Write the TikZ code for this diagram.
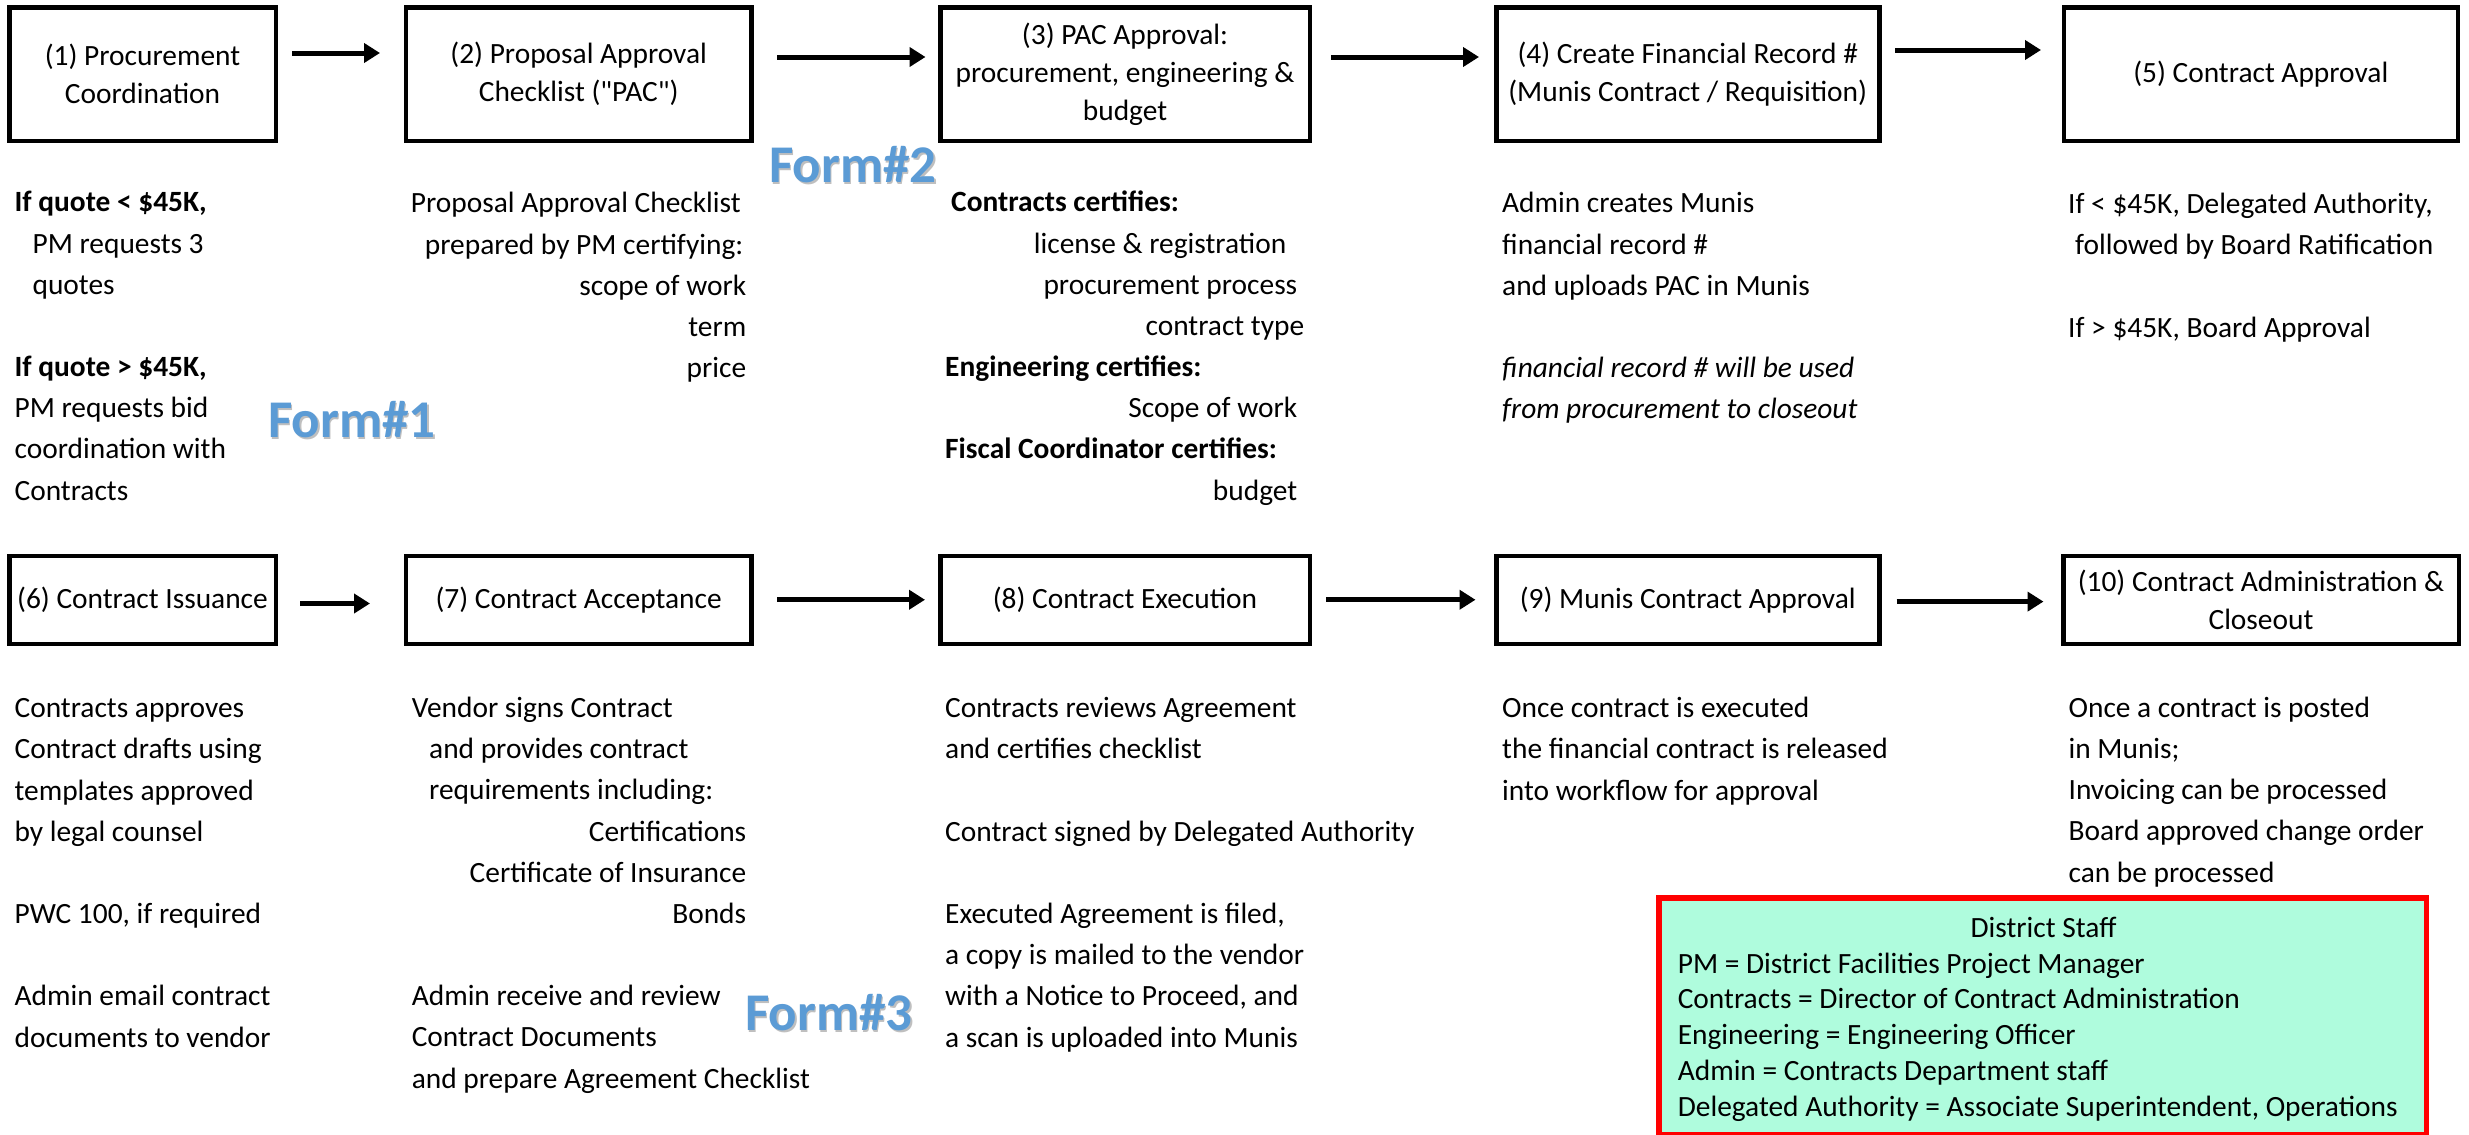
\documentclass[tikz,border=0pt]{standalone}
\usepackage{fontspec}
\setmainfont{Carlito}
\newfontfamily\nomapfont{Carlito}[Ligatures=TeXOff]
\usetikzlibrary{arrows.meta}
\definecolor{formblue}{RGB}{91,155,213}
\definecolor{mint}{RGB}{175,252,221}
\definecolor{legendred}{RGB}{255,0,0}
\newcommand\boxfont{\fontsize{29.4}{38}\selectfont}
\newcommand\descfont{\fontsize{29.4}{41.15}\selectfont}
\newcommand\legfont{\fontsize{29.4}{35.7}\selectfont}
\newcommand\formfont{\fontsize{53}{60}\selectfont\bfseries}
\newcommand\sq{{\nomapfont"}}
\tikzset{
  stepbox/.style={draw, line width=4.5pt, align=center, inner sep=0pt, font=\boxfont},
  toprow/.style={minimum height=133.5pt},
  botrow/.style={minimum height=88pt},
  desc/.style={align=left, inner sep=0pt, anchor=base west, font=\descfont},
  arr/.style={line width=5pt, -{Triangle[length=16pt,width=19pt]}},
  formlbl/.style={font=\formfont, text=formblue, inner sep=0pt, anchor=base west},
  formshadow/.style={font=\formfont, text=black!25, inner sep=0pt, anchor=base west},
  legendbox/.style={draw=legendred, fill=mint, line width=5.5pt, inner sep=0pt}
}
\begin{document}
\begin{tikzpicture}[x=1pt,y=-1pt]
\useasboundingbox (0,0) rectangle (2469,1135);
\fill[white] (0,0) rectangle (2469,1135);

% top row boxes
\node[stepbox,toprow,minimum width=266.5pt] (b1) at (142.5,74) {(1) Procurement\\Coordination};
\node[stepbox,toprow,minimum width=345.6pt] (b2) at (578.65,74) {(2) Proposal Approval\\Checklist (\sq PAC\sq)};
\node[stepbox,toprow,minimum width=369.5pt] (b3) at (1125,74) {(3) PAC Approval:\\procurement, engineering \&\\budget};
\node[stepbox,toprow,minimum width=383pt] (b4) at (1687.75,74) {(4) Create Financial Record \#\\(Munis Contract / Requisition)};
\node[stepbox,toprow,minimum width=394pt] (b5) at (2260.75,74) {(5) Contract Approval};

% bottom row boxes
\node[stepbox,botrow,minimum width=266.5pt] (b6) at (142.5,599.75) {(6) Contract Issuance};
\node[stepbox,botrow,minimum width=345.6pt] (b7) at (578.65,599.75) {(7) Contract Acceptance};
\node[stepbox,botrow,minimum width=369.5pt] (b8) at (1125,599.75) {(8) Contract Execution};
\node[stepbox,botrow,minimum width=383pt] (b9) at (1687.75,599.75) {(9) Munis Contract Approval};
\node[stepbox,botrow,minimum width=395.5pt] (b10) at (2261,599.75) {(10) Contract Administration \&\\Closeout};

% arrows
\draw[arr] ([xshift=14pt,yshift=21pt]b1.east) -- ([xshift=-23.6pt,yshift=21pt]b2.west);
\draw[arr] ([xshift=23.3pt,yshift=17pt]b2.east) -- ([xshift=-12.5pt,yshift=17pt]b3.west);
\draw[arr] ([xshift=19pt,yshift=17pt]b3.east) -- ([xshift=-15pt,yshift=17pt]b4.west);
\draw[arr] ([xshift=13.5pt,yshift=24pt]b4.east) -- ([xshift=-20.5pt,yshift=24pt]b5.west);
\draw[arr] ([xshift=22pt,yshift=-3.75pt]b6.east) -- ([xshift=-33.6pt,yshift=-3.75pt]b7.west);
\draw[arr] ([xshift=23.3pt]b7.east) -- ([xshift=-13pt]b8.west);
\draw[arr] ([xshift=14pt]b8.east) -- ([xshift=-18.5pt]b9.west);
\draw[arr] ([xshift=15pt,yshift=-1.85pt]b9.east) -- ([xshift=-17.5pt,yshift=-1.85pt]b10.west);

% descriptions, top row (anchored at the baseline of the last line)
\node[desc] (d1) at (14.4,500) {\textbf{If quote < \$45K,}\\
\hspace*{18pt}PM requests 3\\
\hspace*{18pt}quotes\\[41.15pt]
\textbf{If quote > \$45K,}\\
PM requests bid\\
coordination with\\
Contracts};
\node[desc] (d2) at (411.6,377.5) {\makebox[329pt][r]{Proposal Approval Checklist}\\
\makebox[331.4pt][r]{prepared by PM certifying:}\\
\makebox[334.4pt][r]{scope of work}\\
\makebox[334.4pt][r]{term}\\
\makebox[334.4pt][r]{price}};
\node[desc] (d3) at (945,500) {\hspace*{6pt}\textbf{Contracts certifies:}\\
\makebox[341pt][r]{license \& registration}\\
\makebox[352pt][r]{procurement process}\\
\makebox[359pt][r]{contract type}\\
\textbf{Engineering certifies:}\\
\makebox[352pt][r]{Scope of work}\\
\textbf{Fiscal Coordinator certifies:}\\
\makebox[352pt][r]{budget}};
\node[desc] (d4) at (1502,418.6) {Admin creates Munis\\
financial record \#\\
and uploads PAC in Munis\\[41.15pt]
\textit{financial record \# will be used}\\
\textit{from procurement to closeout}};
\node[desc] (d5) at (2068,337) {If < \$45K, Delegated Authority,\\
\hspace*{7pt}followed by Board Ratification\\[41.15pt]
If > \$45K, Board Approval};

% descriptions, bottom row
\node[desc] (d6) at (14.4,1047) {Contracts approves\\
Contract drafts using\\
templates approved\\
by legal counsel\\[41.15pt]
PWC 100, if required\\[41.15pt]
Admin email contract\\
documents to vendor};
\node[desc] (d7) at (411.6,1088) {Vendor signs Contract\\
\hspace*{17.4pt}and provides contract\\
\hspace*{17.4pt}requirements including:\\
\makebox[334.4pt][r]{Certifications}\\
\makebox[334.4pt][r]{Certificate of Insurance}\\
\makebox[334.4pt][r]{Bonds}\\[41.15pt]
Admin receive and review\\
Contract Documents\\
and prepare Agreement Checklist};
\node[desc] (d8) at (945,1047) {Contracts reviews Agreement\\
and certifies checklist\\[41.15pt]
Contract signed by Delegated Authority\\[41.15pt]
Executed Agreement is filed,\\
a copy is mailed to the vendor\\
with a Notice to Proceed, and\\
a scan is uploaded into Munis};
\node[desc] (d9) at (1502,800) {Once contract is executed\\
the financial contract is released\\
into workflow for approval};
\node[desc] (d10) at (2068.4,882) {Once a contract is posted\\
in Munis;\\
Invoicing can be processed\\
Board approved change order\\
can be processed};

% form labels
\node[formshadow] (f1s) at (269.5,439.5) {Form\#1};
\node[formlbl] (f1) at (268,437) {Form\#1};
\node[formshadow] (f2s) at (770.5,184.5) {Form\#2};
\node[formlbl] (f2) at (769,182) {Form\#2};
\node[formshadow] (f3s) at (746.5,1032.5) {Form\#3};
\node[formlbl] (f3) at (745,1030) {Form\#3};

% legend
\node[legendbox,minimum width=767.5pt,minimum height=236.5pt] (lg) at (2042.5,1016) {};
\node[inner sep=0pt,anchor=base,font=\legfont] (lgt) at (2043.5,937) {District Staff};
\node[inner sep=0pt,anchor=base west,align=left,font=\legfont] (lgl) at (1677.6,1116) {PM = District Facilities Project Manager\\
Contracts = Director of Contract Administration\\
Engineering = Engineering Officer\\
Admin = Contracts Department staff\\
Delegated Authority = Associate Superintendent, Operations};
\end{tikzpicture}
\end{document}
